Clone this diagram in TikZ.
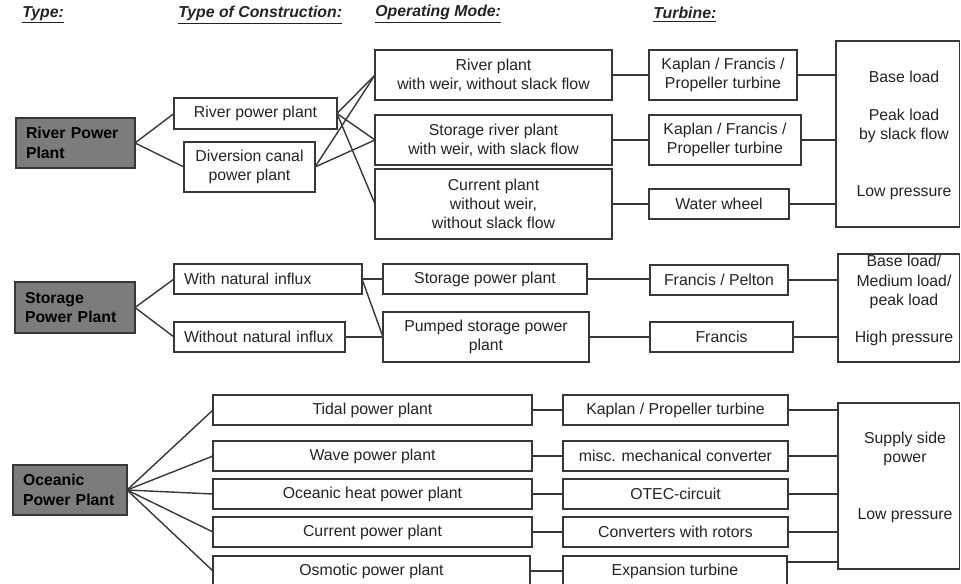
\documentclass[tikz,border=0pt]{standalone}
\usepackage{fontspec}
\setmainfont{Liberation Sans}
\usepackage{xcolor}
\definecolor{ColLine}{RGB}{55,55,55}
\definecolor{ColText}{RGB}{35,35,35}
\definecolor{ColPlant}{RGB}{124,124,124}
\usepackage{tikz}
\newcommand{\Px}{0.02cm}
\newcommand{\TextSize}{\fontsize{9}{11}\selectfont}
\tikzstyle{Cell}=[ColLine,draw,line width=0.8pt,outer sep=0pt,inner sep=0pt,
    align=center,text=ColText,font=\TextSize]
\tikzstyle{Plant}=[Cell,fill=ColPlant,align=left,inner xsep=0.2cm,
    text=black,font=\TextSize\bfseries]
\tikzstyle{Header}=[anchor=west,inner sep=0pt,text=ColText,
    font=\TextSize\bfseries\itshape]
\tikzstyle{Label}=[align=center,text=ColText,font=\TextSize]
\tikzstyle{Link}=[ColLine,line width=0.8pt]
\tikzset{Size/.style 2 args={minimum width=#1*\Px,minimum height=#2*\Px}}

\begin{document}
\begin{tikzpicture}[x=0.02cm,y=-0.02cm]
        \useasboundingbox(0,0)rectangle(961,584);
        % column titles
        \node[Header](HT)at(22,15){\underline{Type:}};
        \node[Header](HC)at(178,15){\underline{Type of Construction:}};
        \node[Header](HM)at(375,14){\underline{Operating Mode:}};
        \node[Header](HU)at(653,15){\underline{Turbine:}};
        % river power plant
        \node[Plant,Size={119}{50},text width=1.98cm](RP)at(75.5,143)
            {River Power\\Plant};
        \node[Cell,Size={163}{31}](RC1)at(255.5,113.5){River power plant};
        \node[Cell,Size={131}{50}](RC2)at(249.5,167)
            {Diversion canal\\power plant};
        \node[Cell,Size={237}{50}](RM1)at(493.5,75)
            {River plant\\with weir, without slack flow};
        \node[Cell,Size={237}{50}](RM2)at(493.5,140)
            {Storage river plant\\with weir, with slack flow};
        \node[Cell,Size={237}{70}](RM3)at(493.5,204)
            {Current plant\\without weir,\\without slack flow};
        \node[Cell,Size={148}{50}](RT1)at(723,75)
            {Kaplan / Francis /\\Propeller turbine};
        \node[Cell,Size={152}{50}](RT2)at(725,140)
            {Kaplan / Francis /\\Propeller turbine};
        \node[Cell,Size={140}{30}](RT3)at(719,204){Water wheel};
        \node[Cell,Size={123.5}{186}](RL)at(897.75,134){};
        \node[Label](RL1)at(904,77){Base load};
        \node[Label](RL2)at(904,126){Peak load\\by slack flow};
        \node[Label](RL3)at(904,193){Low pressure};
        \draw[Link](RP.east)--(RC1.west);
        \draw[Link](RP.east)--(RC2.west);
        \foreach \m in {RM1,RM2,RM3}
            \draw[Link](RC1.east)--(\m.west);
        \foreach \m in {RM1,RM2}
            \draw[Link](RC2.east)--(\m.west);
        \draw[Link](RM1)--(RT1);
        \draw[Link](RM2)--(RT2);
        \draw[Link](RM3)--(RT3);
        \foreach \t in {RT1,RT2,RT3}
            \draw[Link](\t.east)--(\t.east-|RL.west);
        % storage power plant
        \node[Plant,Size={120}{51},text width=2cm](SP)at(75,307.5)
            {Storage\\Power Plant};
        \node[Cell,Size={188}{30},align=left,inner xsep=0.2cm,
            text width=3.36cm](SC1)at(268,279){With natural influx};
        \node[Cell,Size={171}{30},align=left,inner xsep=0.2cm,
            text width=3.02cm](SC2)at(259.5,337){Without natural influx};
        \node[Cell,Size={204}{30}](SM1)at(485,279){Storage power plant};
        \node[Cell,Size={206}{50}](SM2)at(486,337)
            {Pumped storage power\\plant};
        \node[Cell,Size={138}{30}](ST1)at(719,280){Francis / Pelton};
        \node[Cell,Size={143}{30}](ST2)at(721.5,337){Francis};
        \node[Cell,Size={121.5}{108}](SL)at(898.75,308){};
        \node[Label](SL1)at(904,282){Base load/\\Medium load/\\peak load};
        \node[Label](SL2)at(904,338){High pressure};
        \draw[Link](SP.east)--(SC1.west);
        \draw[Link](SP.east)--(SC2.west);
        \draw[Link](SC1.east)--(SM1.west);
        \draw[Link](SC1.east)--(SM2.west);
        \draw[Link](SC2.east)--(SM2.west);
        \draw[Link](SM1.east)--(SM1.east-|ST1.west);
        \draw[Link](SM2.east)--(SM2.east-|ST2.west);
        \draw[Link](ST1.east)--(ST1.east-|SL.west);
        \draw[Link](ST2.east)--(ST2.east-|SL.west);
        % oceanic power plant
        \node[Plant,Size={114}{50},text width=1.88cm](OP)at(70,490)
            {Oceanic\\Power Plant};
        \node[Cell,Size={319}{30}](OC1)at(372.5,410){Tidal power plant};
        \node[Cell,Size={319}{30}](OC2)at(372.5,456){Wave power plant};
        \node[Cell,Size={319}{30}](OC3)at(372.5,494){Oceanic heat power plant};
        \node[Cell,Size={319}{30}](OC4)at(372.5,532){Current power plant};
        \node[Cell,Size={317}{30}](OC5)at(371.5,571){Osmotic power plant};
        \node[Cell,Size={225}{30}](OT1)at(675.5,410){Kaplan / Propeller turbine};
        \node[Cell,Size={225}{30}](OT2)at(675.5,456){misc. mechanical converter};
        \node[Cell,Size={225}{30}](OT3)at(675.5,494){OTEC-circuit};
        \node[Cell,Size={225}{30}](OT4)at(675.5,532){Converters with rotors};
        \node[Cell,Size={224}{30}](OT5)at(675,571){Expansion turbine};
        \node[Cell,Size={121.5}{166}](OL)at(898.75,486){};
        \node[Label](OL1)at(905,449){Supply side\\power};
        \node[Label](OL2)at(905,516){Low pressure};
        \foreach \i in {1,...,5}{
            \draw[Link](OP.east)--(OC\i.west);
            \draw[Link](OC\i.east)--(OC\i.east-|OT\i.west);
        }
        \foreach \i in {1,...,4}
            \draw[Link](OT\i.east)--(OT\i.east-|OL.west);
        \coordinate(OT5out)at([yshift=0.18cm]OT5.east);
        \draw[Link](OT5out)--(OT5out-|OL.west);
    \end{tikzpicture}
\end{document}
